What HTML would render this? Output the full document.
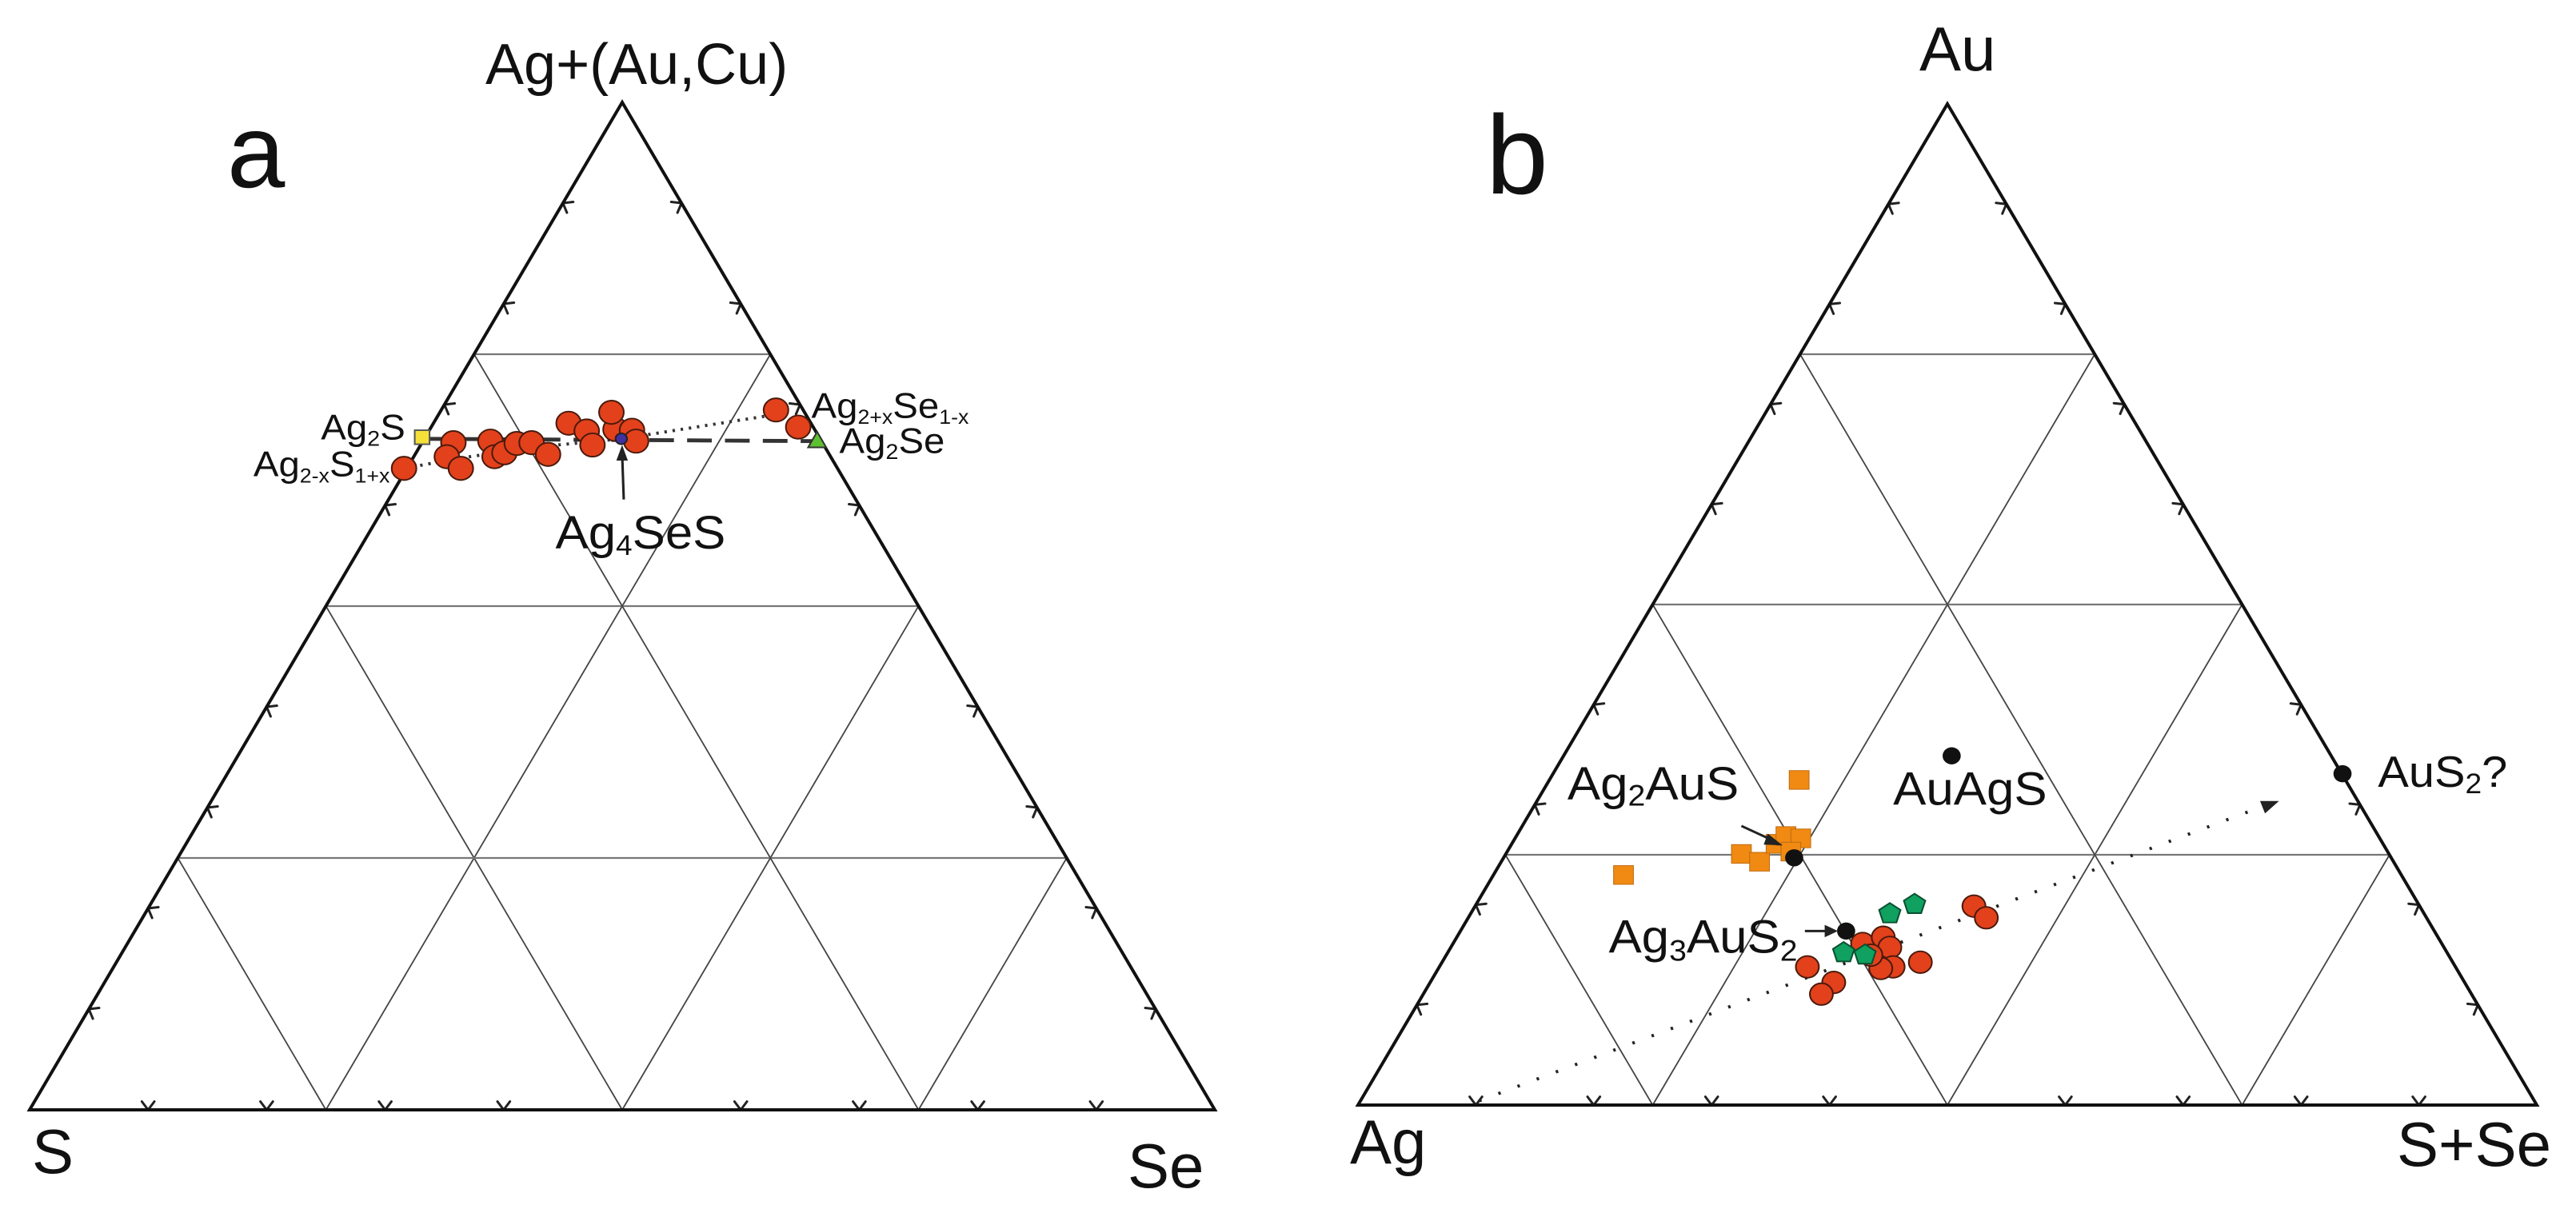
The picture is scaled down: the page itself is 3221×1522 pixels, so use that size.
<!DOCTYPE html>
<html><head><meta charset="utf-8"><style>html,body{margin:0;padding:0;background:#fff}svg{display:block}text{font-family:"Liberation Sans",sans-serif;fill:#111}</style></head>
<body>
<svg id="s" width="3221" height="1522" viewBox="0 0 3221 1522" xmlns="http://www.w3.org/2000/svg">
<rect width="3221" height="1522" fill="#fff"/>
<g id="grid"></g>
<text x="607" y="105" font-size="72">Ag+(Au,Cu)</text>
<text x="284" y="234" font-size="130">a</text>
<text x="40" y="1467" font-size="78">S</text>
<text x="1410" y="1485" font-size="78">Se</text>
<g transform="matrix(1.029 0 0 0.974 -2.1 -3.5)">
 <line x1="515" y1="567" x2="995" y2="570" stroke="#333" stroke-width="5" stroke-dasharray="30,16"/>
 <polyline points="493,605 560,592 650,578 757,567 950,535" fill="none" stroke="#333" stroke-width="4" stroke-dasharray="3,7"/>
 <g fill="#e2411b" stroke="#4a1a0c" stroke-width="2">
  <circle cx="553" cy="572" r="15"/><circle cx="545" cy="590" r="15"/><circle cx="562" cy="605" r="15"/>
  <circle cx="598" cy="570" r="15"/><circle cx="603" cy="590" r="15"/><circle cx="615" cy="585" r="15"/>
  <circle cx="630" cy="573" r="15"/><circle cx="648" cy="572" r="15"/><circle cx="668" cy="587" r="15"/>
  <circle cx="693" cy="547" r="15"/><circle cx="715" cy="557" r="15"/><circle cx="722" cy="575" r="15"/>
  <circle cx="750" cy="555" r="15"/><circle cx="770" cy="556" r="15"/><circle cx="775" cy="570" r="15"/>
  <circle cx="745" cy="533" r="15"/><circle cx="493" cy="605" r="15"/>
  <circle cx="945" cy="530" r="15"/><circle cx="972" cy="552" r="15"/>
 </g>
 <rect x="506" y="556" width="18" height="18" fill="#f5e03a" stroke="#555" stroke-width="2"/>
 <polygon points="995,558 1006,578 984,578" fill="#5cc030" stroke="#333" stroke-width="2"/>
 <circle cx="757" cy="567" r="7" fill="#4030a0" stroke="#222" stroke-width="2"/>
 <line x1="760" y1="645" x2="758" y2="585" stroke="#222" stroke-width="3"/>
 <polygon points="758,575 751,595 765,595" fill="#222"/>
 <text x="677" y="708" font-size="60">Ag<tspan font-size="36" dy="8">4</tspan><tspan dy="-8">SeS</tspan></text>
 <text x="392" y="568" font-size="46">Ag<tspan font-size="28" dy="8">2</tspan><tspan dy="-8">S</tspan></text>
 <text x="310" y="615" font-size="46">Ag<tspan font-size="26" dy="8">2-x</tspan><tspan dy="-8">S</tspan><tspan font-size="26" dy="8">1+x</tspan></text>
 <text x="988" y="540" font-size="46">Ag<tspan font-size="26" dy="8">2+x</tspan><tspan dy="-8">Se</tspan><tspan font-size="26" dy="8">1-x</tspan></text>
 <text x="1022" y="585" font-size="46">Ag<tspan font-size="28" dy="8">2</tspan><tspan dy="-8">Se</tspan></text>
</g>
<text x="2400" y="88" font-size="78">Au</text>
<text x="1858" y="242" font-size="140">b</text>
<text x="1688" y="1455" font-size="78">Ag</text>
<text x="2997" y="1458" font-size="78">S+Se</text>
<g transform="matrix(1.031 0 0 0.974 1607.3 -1.5)">
 <line x1="235" y1="1415" x2="1190" y2="1035" stroke="#222" stroke-width="4" stroke-dasharray="3,22"/>
 <polygon points="1205,1030 1182,1030 1188,1046" fill="#222"/>
 <g fill="#f08a12" stroke="#c06a10" stroke-width="1">
  <rect x="611" y="991" width="24" height="24"/><rect x="398" y="1113" width="24" height="24"/>
  <rect x="541" y="1086" width="24" height="24"/><rect x="563" y="1096" width="24" height="24"/>
  <rect x="583" y="1073" width="24" height="24"/><rect x="595" y="1063" width="24" height="24"/>
  <rect x="613" y="1066" width="24" height="24"/><rect x="601" y="1083" width="24" height="24"/>
 </g>
 <g fill="#e2411b" stroke="#4a1a0c" stroke-width="2">
  <circle cx="700" cy="1213" r="14"/><circle cx="725" cy="1205" r="14"/><circle cx="733" cy="1218" r="14"/>
  <circle cx="737" cy="1243" r="14"/><circle cx="722" cy="1245" r="14"/><circle cx="770" cy="1237" r="14"/>
  <circle cx="633" cy="1243" r="14"/><circle cx="665" cy="1263" r="14"/><circle cx="650" cy="1278" r="14"/>
  <circle cx="835" cy="1165" r="14"/><circle cx="850" cy="1180" r="14"/><circle cx="710" cy="1228" r="14"/>
 </g>
 <g fill="#10a060" stroke="#0a5030" stroke-width="2">
  <polygon points="733,1161 746,1170 741,1186 725,1186 720,1170"/>
  <polygon points="763,1149 776,1158 771,1174 755,1174 750,1158"/>
  <polygon points="677,1211 690,1220 685,1236 669,1236 664,1220"/>
  <polygon points="703,1214 716,1223 711,1239 695,1239 690,1223"/>
 </g>
 <g fill="#111">
  <circle cx="808" cy="972" r="11"/><circle cx="1282" cy="995" r="11"/>
  <circle cx="617" cy="1103" r="11"/><circle cx="680" cy="1197" r="11"/>
 </g>
 <line x1="553" y1="1062" x2="592" y2="1081" stroke="#222" stroke-width="3"/>
 <polygon points="603,1087 585,1072 580,1086" fill="#222"/>
 <line x1="630" y1="1197" x2="660" y2="1197" stroke="#222" stroke-width="3"/>
 <polygon points="670,1197 654,1189 654,1205" fill="#222"/>
 <text x="342" y="1028" font-size="60">Ag<tspan font-size="38" dy="8">2</tspan><tspan dy="-8">AuS</tspan></text>
 <text x="392" y="1225" font-size="60">Ag<tspan font-size="38" dy="10">3</tspan><tspan dy="-10">AuS</tspan><tspan font-size="38" dy="10">2</tspan></text>
 <text x="737" y="1035" font-size="60">AuAgS</text>
 <text x="1325" y="1012" font-size="56">AuS<tspan font-size="36" dy="8">2</tspan><tspan dy="-8">?</tspan></text>
</g>
</svg>
<script>
(function(){
var g=document.getElementById('grid'),h='';
function L(a,b,w,c){h+='<line x1="'+a[0].toFixed(1)+'" y1="'+a[1].toFixed(1)+'" x2="'+b[0].toFixed(1)+'" y2="'+b[1].toFixed(1)+'" stroke="'+c+'" stroke-width="'+w+'" stroke-linecap="round"/>';}
function lerp(a,b,t){return [a[0]+(b[0]-a[0])*t,a[1]+(b[1]-a[1])*t];}
function tri(A,B,C){
 [0.25,0.5,0.75].forEach(function(t){
  L(lerp(A,B,t),lerp(A,C,t),2.2,'#777');
  L(lerp(B,C,t),lerp(C,A,1-t),1.8,'#444');
  L(lerp(B,C,t),lerp(B,A,t),1.8,'#444');
 });
 var cen=[(A[0]+B[0]+C[0])/3,(A[1]+B[1]+C[1])/3];
 [[B,C],[A,B],[C,A]].forEach(function(s){
  for(var i=1;i<10;i++){ if(i==5) continue;
   var p=lerp(s[0],s[1],i/10);
   var dx=s[1][0]-s[0][0],dy=s[1][1]-s[0][1],l=Math.hypot(dx,dy);
   var nx=-dy/l,ny=dx/l;
   if((cen[0]-p[0])*nx+(cen[1]-p[1])*ny<0){nx=-nx;ny=-ny;}
   var ux=dx/l,uy=dy/l,k=13;
   L(p,[p[0]+(nx*0.8+ux*0.6)*k,p[1]+(ny*0.8+uy*0.6)*k],3,'#222');
   L(p,[p[0]+(nx*0.8-ux*0.6)*k,p[1]+(ny*0.8-uy*0.6)*k],3,'#222');
  }
 });
 h+='<polygon points="'+A+' '+B+' '+C+'" fill="none" stroke="#111" stroke-width="4"/>';
}
tri([778,128],[37,1388],[1519,1388]);
tri([2435,130],[1698,1382],[3172,1382]);
g.innerHTML=h;
})();
</script>
</body></html>
